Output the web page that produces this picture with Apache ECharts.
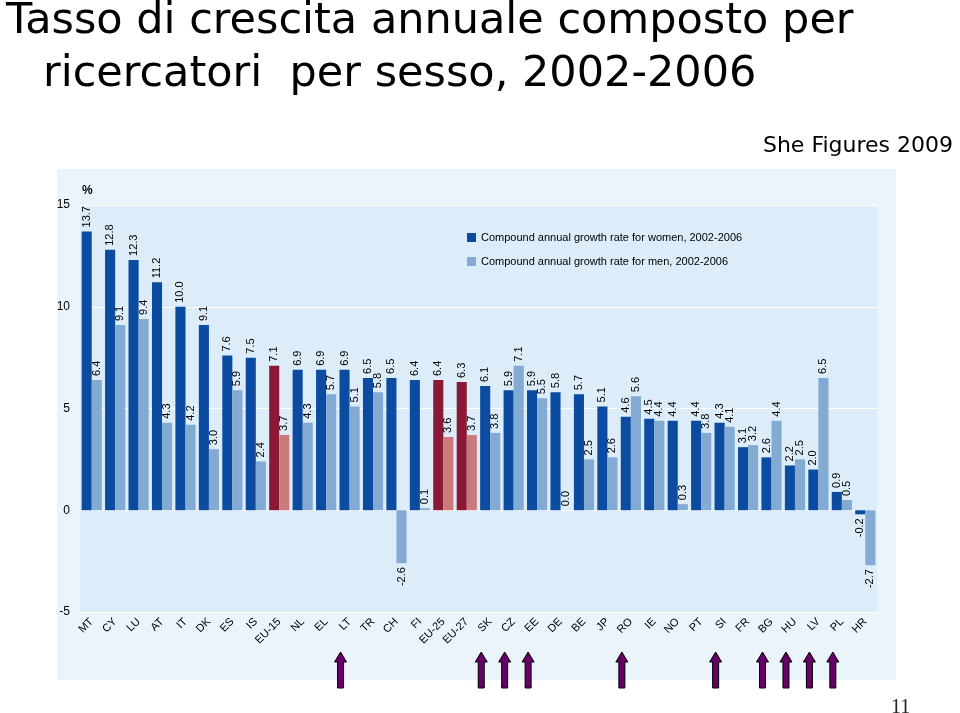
<!DOCTYPE html>
<html>
<head>
<meta charset="utf-8">
<script src="https://cdn.jsdelivr.net/npm/echarts@6/dist/echarts.min.js"></script>
<style>html,body{margin:0;padding:0;background:#fff;}#c{width:960px;height:713px;}</style>
</head>
<body>
<div id="c"></div>
<script>
var categories = ['MT','CY','LU','AT','IT','DK','ES','IS','EU-15','NL','EL','LT','TR','CH','FI','EU-25','EU-27','SK','CZ','EE','DE','BE','JP','RO','IE','NO','PT','SI','FR','BG','HU','LV','PL','HR'];
var women = [13.7,12.8,12.3,11.2,10.0,9.1,7.6,7.5,7.1,6.9,6.9,6.9,6.5,6.5,6.4,6.4,6.3,6.1,5.9,5.9,5.8,5.7,5.1,4.6,4.5,4.4,4.4,4.3,3.1,2.6,2.2,2.0,0.9,-0.2];
var men = [6.4,9.1,9.4,4.3,4.2,3.0,5.9,2.4,3.7,4.3,5.7,5.1,5.8,-2.6,0.1,3.6,3.7,3.8,7.1,5.5,0.0,2.5,2.6,5.6,4.4,0.3,3.8,4.1,3.2,4.4,2.5,6.5,0.5,-2.7];
var euAggregates = ['EU-15','EU-25','EU-27'];
var arrowCategories = ['LT','SK','CZ','EE','RO','SI','BG','HU','LV','PL'];
var yTicks = {min: -5, max: 15, interval: 5};

var C_W = '#0B4BA0', C_M = '#82AAD2', C_WR = '#8C1838', C_MR = '#C97A7A';

function buildData(vals, normal, red) {
  return vals.map(function (v, i) {
    var neg = v < 0;
    return {
      value: v,
      itemStyle: { color: euAggregates.indexOf(categories[i]) >= 0 ? red : normal },
      label: neg ? { position: 'bottom', align: 'right' } : { position: 'top', align: 'left' }
    };
  });
}

var labelCommon = {
  show: true, rotate: 90, verticalAlign: 'middle', distance: 4,
  fontSize: 11, color: '#000', fontFamily: 'Liberation Sans, Arial, sans-serif',
  formatter: function (p) { return p.value.toFixed(1); }
};

var chart = echarts.init(document.getElementById('c'));
chart.setOption({
  animation: false,
  textStyle: { fontFamily: 'Liberation Sans, Arial, sans-serif' },
  title: [
    { text: 'Tasso di crescita annuale composto per', left: 1, top: -5,
      textStyle: { fontSize: 43, fontWeight: 'normal', color: '#000', fontFamily: 'DejaVu Sans, sans-serif' } },
    { text: 'ricercatori  per sesso, 2002-2006', left: 38, top: 48,
      textStyle: { fontSize: 43, fontWeight: 'normal', color: '#000', fontFamily: 'DejaVu Sans, sans-serif' } },
    { text: 'She Figures 2009', right: 2, top: 130,
      textStyle: { fontSize: 22, fontWeight: 'normal', color: '#000', fontFamily: 'DejaVu Sans, sans-serif' } },
    { text: '11', left: 886, top: 693,
      textStyle: { fontSize: 20, fontWeight: 'normal', color: '#222', fontFamily: 'Liberation Serif, serif' } }
  ],
  graphic: [
    { type: 'rect', left: 57, top: 169, z: -10, silent: true,
      shape: { width: 839, height: 511 }, style: { fill: '#EBF3FB' } }
  ],
  legend: {
    left: 462, top: 227, orient: 'vertical', itemGap: 13,
    itemWidth: 9, itemHeight: 9, icon: 'rect',
    textStyle: { fontSize: 11, color: '#000' },
    data: [
      { name: 'Compound annual growth rate for women, 2002-2006', itemStyle: { color: C_W } },
      { name: 'Compound annual growth rate for men, 2002-2006', itemStyle: { color: C_M } }
    ]
  },
  grid: { left: 80, right: 83, top: 205, bottom: 101, show: true, backgroundColor: '#DCECF8', borderWidth: 0 },
  xAxis: {
    type: 'category', data: categories,
    axisLine: { show: false }, axisTick: { show: false },
    axisLabel: { rotate: 45, interval: 0, fontSize: 11, color: '#000', margin: 8 }
  },
  yAxis: {
    type: 'value', min: yTicks.min, max: yTicks.max, interval: yTicks.interval,
    name: '%', nameLocation: 'end', nameGap: 8,
    nameTextStyle: { align: 'left', fontSize: 12, fontWeight: 'bold', color: '#000', padding: [0, 0, 0, 2] },
    axisLine: { show: false }, axisTick: { show: false },
    axisLabel: { fontSize: 12, color: '#000', margin: 10 },
    splitLine: { lineStyle: { color: '#FFFFFF', width: 1 } }
  },
  series: [
    { name: 'Compound annual growth rate for women, 2002-2006', type: 'bar',
      barGap: '0%', barCategoryGap: '14%', itemStyle: { color: C_W },
      label: labelCommon, data: buildData(women, C_W, C_WR) },
    { name: 'Compound annual growth rate for men, 2002-2006', type: 'bar',
      barGap: '0%', barCategoryGap: '14%', itemStyle: { color: C_M },
      label: labelCommon, data: buildData(men, C_M, C_MR) },
    { type: 'custom', silent: true, clip: false, z: 5,
      data: arrowCategories.map(function (c) { return [c, 0]; }),
      renderItem: function (params, api) {
        var x = api.coord([api.value(0), 0])[0] - 9;
        var bottom = params.coordSys.y + params.coordSys.height;
        var tip = bottom + 40, base = bottom + 76, neck = tip + 10;
        return {
          type: 'polygon',
          shape: { points: [[x, tip], [x + 6, neck], [x + 3, neck], [x + 3, base], [x - 3, base], [x - 3, neck], [x - 6, neck]] },
          style: { fill: '#660066', stroke: '#000', lineWidth: 1 }
        };
      }
    }
  ]
});
</script>
</body>
</html>
